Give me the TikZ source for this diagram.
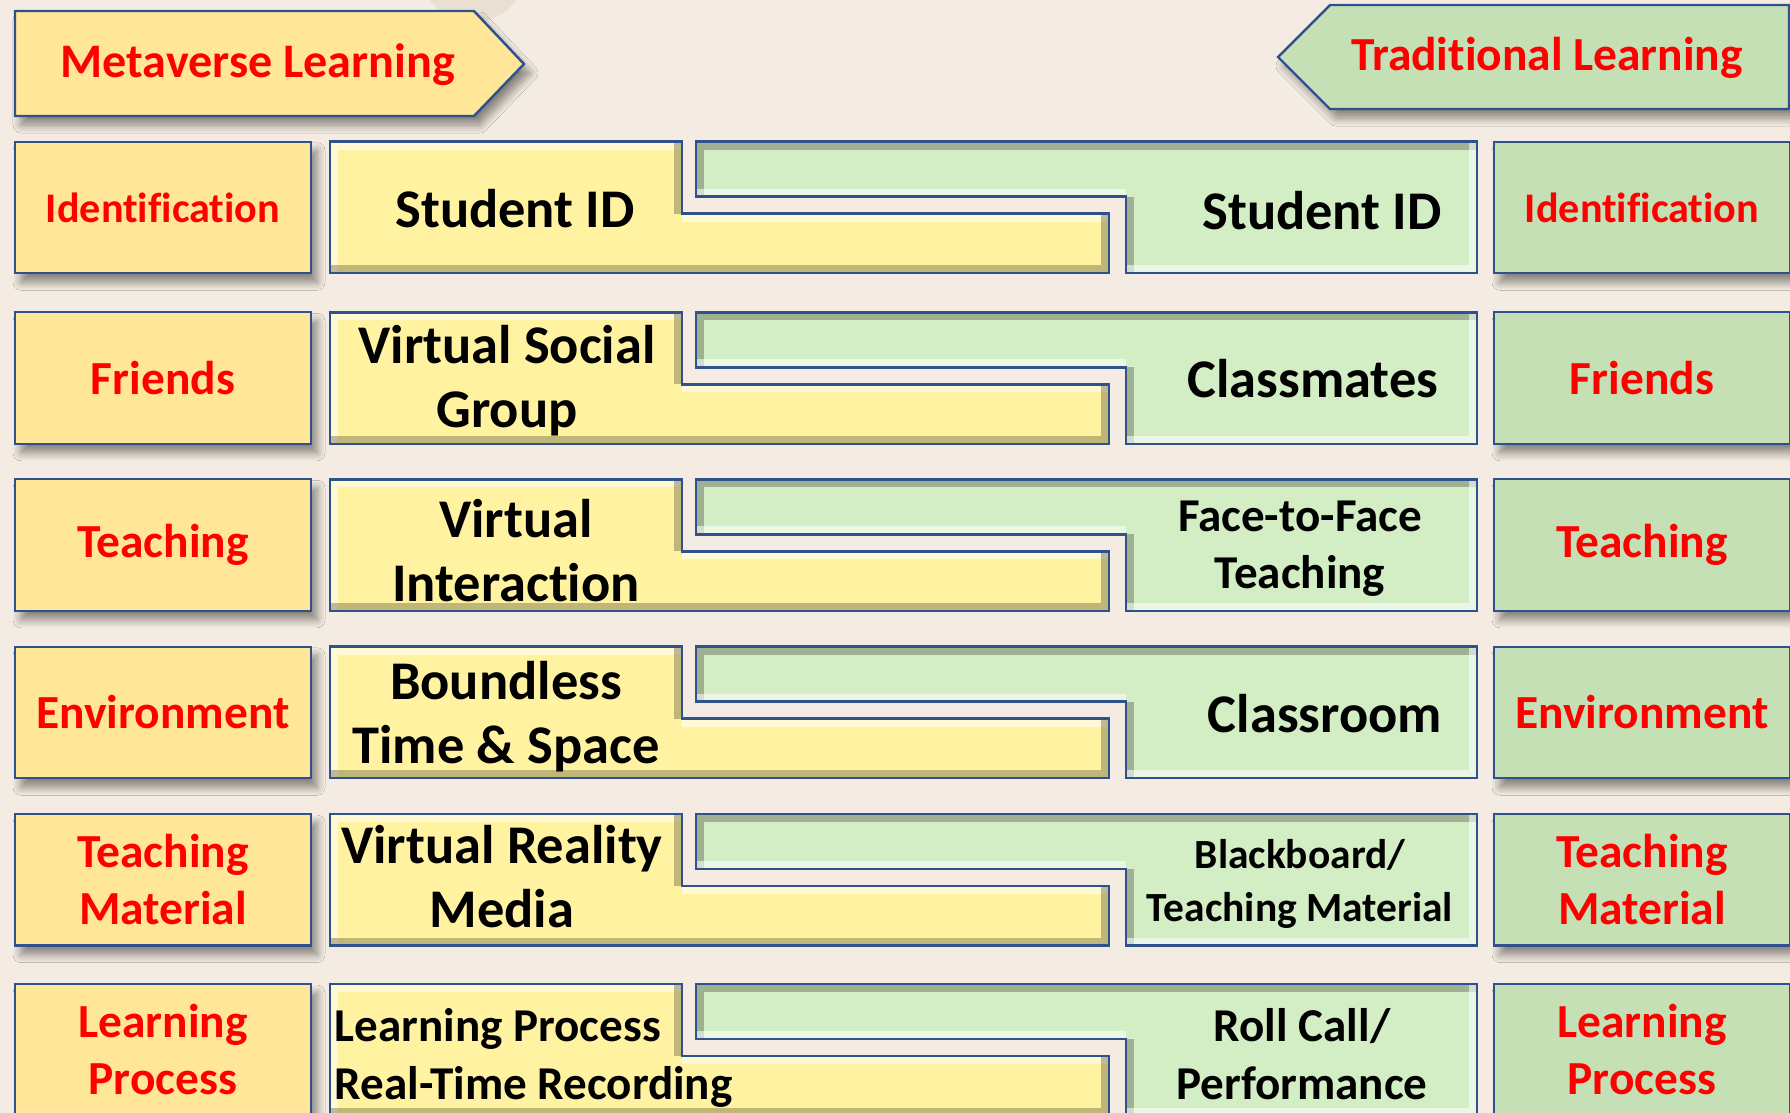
\documentclass[tikz,border=0pt]{standalone}
\usepackage{fontspec}
\setmainfont{Carlito}[Ligatures=NoCommon]
\usepackage{tikz}
\usetikzlibrary{shadows.blur}
\definecolor{fondo}{HTML}{F4ECE2}
\definecolor{disco}{HTML}{EAE0D2}
\definecolor{metayel}{HTML}{FFE699}
\definecolor{baryel}{HTML}{FFF2A1}
\definecolor{bargrn}{HTML}{D3EDC4}
\definecolor{tradgrn}{HTML}{C5E0B4}
\definecolor{bordeB}{HTML}{2F528F}
\definecolor{rojo}{HTML}{FF0000}
\tikzset{
  rim/.style={draw=bordeB, line width=0.7pt},
  sombra/.style={blur shadow={shadow xshift=0.6mm, shadow yshift=-0.9mm, shadow blur steps=8,
                 shadow blur radius=0.8mm, shadow opacity=45}},
  banner/.style={rim, fill=#1, sombra},
  lblbox/.style={rectangle, rim, fill=#1, sombra, minimum width=29.6mm, minimum height=13.15mm,
                 align=center, inner sep=0pt, text=rojo, font=\bfseries\fontsize{13.5}{16.2}\selectfont},
  bantxt/.style={inner sep=0pt, text=rojo, font=\bfseries\fontsize{#1}{16}\selectfont},
  bigtxt/.style={align=center, inner sep=0pt, font=\bfseries\fontsize{15.5}{18.2}\selectfont},
  midtxt/.style={align=center, inner sep=0pt, font=\bfseries\fontsize{13.4}{16.3}\selectfont},
  smalltxt/.style={align=center, inner sep=0pt, font=\bfseries\fontsize{11.8}{15}\selectfont},
  bevlight/.style={draw=white, opacity=.55, line width=0.8mm},
  bevdark/.style={draw=black!55!#1, opacity=.45, line width=0.8mm},
}
% filled shape with a bevelled rim: fill, top-left band, bottom-right band, path
\newcommand\bevel[4]{%
  \fill[#1] #4;
  \begin{scope}
    \clip #4;
    \draw[#2, shift={(4,4)}] #4;
    \draw[#3, shift={(-4,-4)}] #4;
  \end{scope}
  \draw[rim] #4;
}
% one row of the two interlocking bars, #1 = top edge
\newcommand\fila[1]{%
  \bevel{baryel}{bevlight}{bevdark=baryel}{(330,#1) -- (682,#1) -- (682,#1+72) -- (1109,#1+72) -- (1109,#1+131.5) -- (330,#1+131.5) -- cycle}
  \bevel{bargrn}{bevdark=bargrn}{bevlight}{(696,#1) -- (1477,#1) -- (1477,#1+131.5) -- (1126,#1+131.5) -- (1126,#1+55) -- (696,#1+55) -- cycle}
}

\begin{document}
\begin{tikzpicture}[x=0.1mm, y=-0.1mm]
  \useasboundingbox (0,0) rectangle (1790,1113);
  \fill[fondo] (0,0) rectangle (1790,1113);
  \fill[disco] (473,-32) circle (54);

  % headers
  \filldraw[banner=metayel] (15,11) -- (474,11) -- (524,64) -- (474,116) -- (15,116) -- cycle;
  \node[bantxt=13.7] (meta) at (258,65) {Metaverse Learning};
  \filldraw[banner=tradgrn] (1789,5) -- (1330,5) -- (1278,57) -- (1330,109) -- (1789,109) -- cycle;
  \node[bantxt=13.5] (trad) at (1547,58) {Traditional Learning};

  \fila{141.7} \fila{312.3} \fila{479.3} \fila{646.7} \fila{814} \fila{984}

  % left column
  \node[lblbox=metayel, font=\bfseries\fontsize{12}{14}\selectfont] (idM) at (163,207.5) {Identification};
  \node[lblbox=metayel] (frM) at (163,378) {Friends};
  \node[lblbox=metayel] (teM) at (163,545) {Teaching};
  \node[lblbox=metayel] (enM) at (163,712.5) {Environment};
  \node[lblbox=metayel] (maM) at (163,879.8) {Teaching\\Material};
  \node[lblbox=metayel] (prM) at (163,1049.8) {Learning\\Process};

  % right column
  \node[lblbox=tradgrn, font=\bfseries\fontsize{12}{14}\selectfont] (idT) at (1642,207.5) {Identification};
  \node[lblbox=tradgrn] (frT) at (1642,378) {Friends};
  \node[lblbox=tradgrn] (teT) at (1642,545) {Teaching};
  \node[lblbox=tradgrn] (enT) at (1642,712.5) {Environment};
  \node[lblbox=tradgrn] (maT) at (1642,879.8) {Teaching\\Material};
  \node[lblbox=tradgrn] (prT) at (1642,1049.8) {Learning\\Process};

  % metaverse side
  \node[bigtxt] (ys1) at (515,209) {Student ID};
  \node[bigtxt] (ys2) at (507,381) {Virtual Social\\Group};
  \node[bigtxt] (ys3) at (516,551) {Virtual\\Interaction};
  \node[bigtxt] (ys4) at (506,717) {Boundless\\Time \& Space};
  \node[bigtxt] (ys5) at (502,877) {Virtual Reality\\Media};
  \node[midtxt, align=left, anchor=west] (ys6) at (334,1058) {Learning Process\\Real-Time Recording};

  % traditional side
  \node[bigtxt] (gs1) at (1322,211) {Student ID};
  \node[bigtxt] (gs2) at (1313,379) {Classmates};
  \node[midtxt] (gs3) at (1300,549) {Face-to-Face\\Teaching};
  \node[bigtxt] (gs4) at (1325,714) {Classroom};
  \node[smalltxt] (gs5) at (1300,884) {Blackboard/\\Teaching Material};
  \node[midtxt] (gs6) at (1302,1054) {Roll Call/\\Performance};
\end{tikzpicture}
\end{document}
